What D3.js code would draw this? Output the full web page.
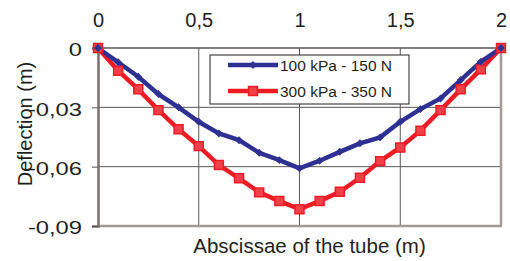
<!DOCTYPE html>
<html>
<head>
<meta charset="utf-8">
<script src="https://cdn.jsdelivr.net/npm/d3@7"></script>
<style>
  body { margin: 0; background: #fff; }
  text { font-family: "Liberation Sans", Arial, sans-serif; fill: #231f20; }
</style>
</head>
<body>
<svg id="chart"></svg>
<script>
/* data */
const abscissa = [0, 0.1, 0.2, 0.3, 0.4, 0.5, 0.6, 0.7, 0.8, 0.9, 1,
                  1.1, 1.2, 1.3, 1.4, 1.5, 1.6, 1.7, 1.8, 1.9, 2];
const low = [0, -0.0072, -0.0145, -0.0233, -0.030, -0.0373, -0.0432, -0.0466, -0.053, -0.0567, -0.0608,
             -0.057, -0.0525, -0.0482, -0.0452, -0.0373, -0.0309, -0.0255, -0.0162, -0.0069, 0];
const high = [0, -0.0115, -0.0209, -0.0314, -0.0411, -0.0496, -0.0592, -0.0659, -0.073, -0.0774, -0.0815,
              -0.0774, -0.0727, -0.0656, -0.0572, -0.0503, -0.0418, -0.0314, -0.0209, -0.0108, 0];
const seriesNames = ["100 kPa - 150 N", "300 kPa - 350 N"];
const xTicks = [0, 0.5, 1, 1.5, 2];
const yTicks = [0, -0.03, -0.06, -0.09];

/* dimensions */
const W = 510, H = 261;
const margin = { top: 48, right: 9, bottom: 35, left: 98 };
const width = W - margin.left - margin.right,
      height = H - margin.top - margin.bottom;

const svg = d3.select("#chart").attr("width", W).attr("height", H);
const g = svg.append("g").attr("transform", `translate(${margin.left}, ${margin.top})`);

const x = d3.scaleLinear().domain([0, 2]).range([0, width]);
const y = d3.scaleLinear().domain([0, -0.09]).range([0, height]);
/* decimal comma and a plain hyphen for the minus */
const comma = (d) => String(+d.toFixed(2)).replace(".", ",");

const blue = "#2e3192", red = "#ed1c24";

/* grid */
g.append("g").selectAll("line").data(xTicks.slice(1, -1)).join("line")
  .attr("x1", d => x(d)).attr("x2", d => x(d))
  .attr("y1", 0).attr("y2", height)
  .attr("stroke", "#5a5456").attr("stroke-width", 1);
g.append("g").selectAll("line").data(yTicks.slice(1, -1)).join("line")
  .attr("x1", 0).attr("x2", width)
  .attr("y1", d => y(d)).attr("y2", d => y(d))
  .attr("stroke", "#5a5456").attr("stroke-width", 1);

/* frame */
g.append("line").attr("x1", 0).attr("x2", width).attr("y1", 0).attr("y2", 0)
  .attr("stroke", "#5a5456").attr("stroke-width", 1.5);
g.append("line").attr("x1", 0).attr("x2", width + 1).attr("y1", height).attr("y2", height)
  .attr("stroke", "#a39a97").attr("stroke-width", 2.5);
g.append("line").attr("x1", width).attr("x2", width).attr("y1", 0).attr("y2", height)
  .attr("stroke", "#a39a97").attr("stroke-width", 2.5);

/* left axis, labels a little wider than the font */
const yAxis = g.append("g")
  .call(d3.axisLeft(y).tickValues(yTicks).tickFormat(comma).tickSize(6).tickPadding(10));
yAxis.select(".domain").attr("stroke", "#7b706d").attr("stroke-width", 2.5);
yAxis.selectAll(".tick line").attr("stroke", "#5a5456");
yAxis.selectAll(".tick text").attr("font-size", 19).attr("fill", "#231f20")
  .attr("x", -16 / 1.25).attr("transform", "scale(1.25, 1)").attr("dy", "0.42em")
  .attr("font-family", "Liberation Sans, Arial, sans-serif");

/* top axis labels */
const xAxis = g.append("g")
  .call(d3.axisTop(x).tickValues(xTicks).tickFormat(comma).tickSize(0).tickPadding(21));
xAxis.select(".domain").remove();
xAxis.selectAll(".tick text").attr("font-size", 20).attr("fill", "#231f20")
  .attr("font-family", "Liberation Sans, Arial, sans-serif");

/* lines */
const line = d3.line().x((d, i) => x(abscissa[i])).y(d => y(d));

g.append("path").datum(high).attr("fill", "none")
  .attr("stroke", red).attr("stroke-width", 4.5).attr("d", line);
g.append("path").datum(low).attr("fill", "none")
  .attr("stroke", blue).attr("stroke-width", 4.5).attr("d", line);

const diamond = d3.symbol().type(d3.symbolDiamond2).size(40);
const square = d3.symbol().type(d3.symbolSquare).size(80);

g.append("g").selectAll("path").data(high).join("path")
  .attr("d", square)
  .attr("transform", (d, i) => `translate(${x(abscissa[i])}, ${y(d)})`)
  .attr("fill", "#f0404a").attr("stroke", red).attr("stroke-width", 1.5);
g.append("g").selectAll("path").data(low).join("path")
  .attr("d", diamond)
  .attr("transform", (d, i) => `translate(${x(abscissa[i])}, ${y(d)})`)
  .attr("fill", blue);

/* legend */
const legend = svg.append("g").attr("transform", "translate(210, 55)");
legend.append("rect").attr("width", 199).attr("height", 49)
  .attr("fill", "#fff").attr("stroke", "#231f20").attr("stroke-width", 1);
const items = [
  { name: seriesNames[0], color: blue, sym: diamond, fill: blue, stroke: "none" },
  { name: seriesNames[1], color: red, sym: square, fill: "#f0404a", stroke: red }
];
items.forEach((it, i) => {
  const row = legend.append("g").attr("transform", `translate(0, ${10 + i * 26})`);
  row.append("line").attr("x1", 18).attr("x2", 68).attr("y1", 0).attr("y2", 0)
    .attr("stroke", it.color).attr("stroke-width", 4.5);
  row.append("path").attr("d", it.sym).attr("transform", "translate(43, 0)")
    .attr("fill", it.fill).attr("stroke", it.stroke).attr("stroke-width", 1.5);
  row.append("text").attr("x", 70).attr("y", 6).attr("font-size", 15.5).text(it.name);
});

/* axis titles */
svg.append("text").attr("x", margin.left + width / 2 + 10).attr("y", 253)
  .attr("text-anchor", "middle").attr("font-size", 20.5).text("Abscissae of the tube (m)");
svg.append("text").attr("transform", `translate(32, 124) rotate(-90)`)
  .attr("text-anchor", "middle").attr("font-size", 20).text("Deflection (m)");
</script>
</body>
</html>
